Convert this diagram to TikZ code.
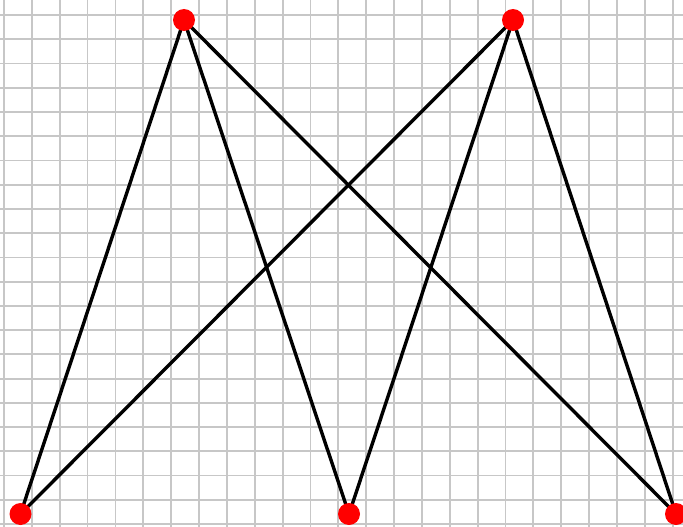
\documentclass[tikz,border=0pt]{standalone}
\usetikzlibrary{backgrounds}
\begin{document}
\begin{tikzpicture}[x=1pt,y=-1pt,
  vert/.style={circle, fill=red, draw=none, inner sep=0pt, minimum size=22pt},
  edge/.style={line width=3.4pt, black},
  gridline/.style={line width=1.8pt, black!22}]
\useasboundingbox (0,0) rectangle (683,527);
\node[vert] (t1) at (184,20) {};
\node[vert] (t2) at (513,20) {};
\node[vert] (b1) at (20.5,514) {};
\node[vert] (b2) at (349,514) {};
\node[vert] (b3) at (676,514) {};
\begin{pgfonlayer}{background}
  \fill[white] (0,0) rectangle (683,527);
  \foreach \k in {0,...,24} {
    \draw[gridline] ({4+27.86*\k},0) -- ({4+27.86*\k},527);
  }
  \foreach \k in {0,...,21} {
    \draw[gridline] (0,{15+24.24*\k}) -- (683,{15+24.24*\k});
  }
  \foreach \t in {t1,t2} {
    \foreach \b in {b1,b2,b3} {
      \draw[edge] (\t.center) -- (\b.center);
    }
  }
\end{pgfonlayer}
\end{tikzpicture}
\end{document}
